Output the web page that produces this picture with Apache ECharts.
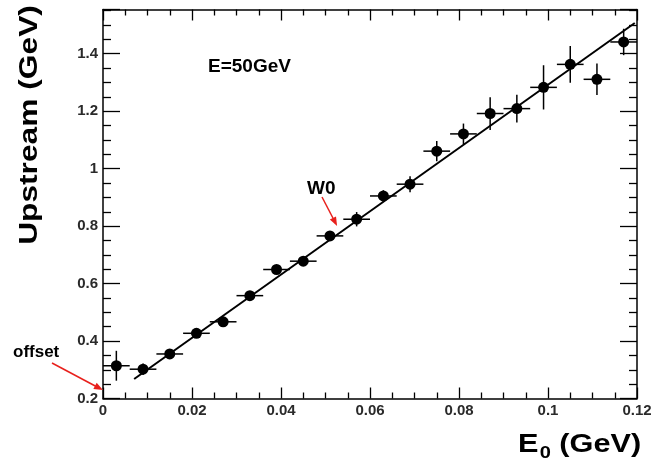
<!DOCTYPE html>
<html><head><meta charset="utf-8">
<script src="https://cdn.jsdelivr.net/npm/echarts@6/dist/echarts.min.js"></script>
<style>html,body{margin:0;padding:0;background:#fff}#c{width:658px;height:466px}</style>
</head><body><div id="c"></div>
<script>
// ---- data ----
const binCenters = [0.003,0.009,0.015,0.021,0.027,0.033,0.039,0.045,0.051,0.057,
                    0.063,0.069,0.075,0.081,0.087,0.093,0.099,0.105,0.111,0.117];
const upstream = [0.314,0.302,0.355,0.427,0.467,0.558,0.649,0.678,0.766,0.824,
                  0.905,0.946,1.061,1.121,1.192,1.209,1.283,1.363,1.311,1.441];
const upstreamErr = [0.052,0.020,0.010,0.010,0.010,0.010,0.012,0.010,0.012,0.025,
                     0.020,0.028,0.035,0.036,0.057,0.048,0.077,0.064,0.055,0.046];
const binHalfWidth = [0.003,0.003,0.003,0.003,0.003,0.003,0.003,0.003,0.003,0.003,
                      0.003,0.003,0.003,0.003,0.003,0.003,0.003,0.003,0.003,0.003];
const fitX = [0.007, 0.1195];
const fitY = [0.268, 1.507];
const xRange = [0, 0.12];
const yRange = [0.2, 1.554];

const points = binCenters.map((x, i) => [x, upstream[i]]);
const errData = binCenters.map((x, i) => [x, upstream[i], binHalfWidth[i], upstreamErr[i]]);
const fitData = fitX.map((x, i) => [x, fitY[i]]);

const FONT = 'Arial, "Liberation Sans", sans-serif';
const labelStyle = {color:'#2a2a2a', fontWeight:'bold', fontSize:15, fontFamily:FONT};
const blk = {color:'#000', width:1.3};

function xAxisDef(pos, show) {
  return {
    type:'value', min:xRange[0], max:xRange[1], interval:0.02, position:pos,
    axisLine:{show:true, onZero:false, lineStyle:{color:'#000', width:1.5}},
    axisTick:{show:true, inside:true, length:11, lineStyle:blk},
    minorTick:{show:true, splitNumber:4, length:6, lineStyle:blk},
    splitLine:{show:false}, minorSplitLine:{show:false},
    axisLabel:Object.assign({show:show, margin:5}, labelStyle)
  };
}
function yAxisDef(pos, show) {
  return {
    type:'value', min:yRange[0], max:yRange[1], interval:0.2, position:pos,
    axisLine:{show:true, onZero:false, lineStyle:{color:'#000', width:1.5}},
    axisTick:{show:true, inside:true, length:17, lineStyle:blk},
    minorTick:{show:true, splitNumber:4, length:8, lineStyle:blk},
    splitLine:{show:false}, minorSplitLine:{show:false},
    axisLabel:Object.assign({show:show, margin:5, showMaxLabel:false}, labelStyle)
  };
}

const chart = echarts.init(document.getElementById('c'), null, {renderer:'canvas'});
chart.setOption({
  animation:false,
  backgroundColor:'#fff',
  grid:{left:103, right:21, top:9.5, bottom:67.5, containLabel:false},
  xAxis:[xAxisDef('bottom', true), xAxisDef('top', false)],
  yAxis:[yAxisDef('left', true), yAxisDef('right', false)],
  series:[
    {
      type:'custom', xAxisIndex:0, yAxisIndex:0, data:errData, z:3,
      renderItem:function(params, api){
        const x = api.value(0), y = api.value(1), dx = api.value(2), dy = api.value(3);
        const l = api.coord([x-dx, y]), r = api.coord([x+dx, y]);
        const t = api.coord([x, y+dy]), b = api.coord([x, y-dy]);
        return {type:'group', children:[
          {type:'line', shape:{x1:l[0], y1:l[1], x2:r[0], y2:r[1]}, style:{stroke:'#000', lineWidth:1.5}},
          {type:'line', shape:{x1:t[0], y1:t[1], x2:b[0], y2:b[1]}, style:{stroke:'#000', lineWidth:1.5}}
        ]};
      }
    },
    {
      type:'line', data:fitData, showSymbol:false, symbol:'none', z:2, clip:false,
      lineStyle:{color:'#000', width:2},
      markLine:{
        silent:true, symbol:['none','triangle'], symbolSize:[7,9],
        lineStyle:{color:'#e8201c', width:1.5, type:'solid'},
        label:{show:false}, emphasis:{disabled:true},
        data:[
          [{x:322, y:197}, {x:335, y:222}],
          [{x:52, y:363}, {x:99, y:388}]
        ]
      }
    },
    {
      type:'scatter', data:points, symbol:'circle', symbolSize:11, z:4,
      itemStyle:{color:'#000', opacity:1}
    }
  ],
  graphic:[
    {type:'text', x:30, y:125, rotation:Math.PI/2, scaleX:1.22, silent:true,
     style:{text:'Upstream (GeV)', font:'bold 26px ' + FONT, fill:'#000', align:'center', verticalAlign:'middle'}},
    {type:'text', x:518, y:445, scaleX:1.18, silent:true,
     style:{text:'{a|E}{b|0}{a| (GeV)}', fill:'#000', align:'left', verticalAlign:'middle',
       rich:{a:{font:'bold 26px ' + FONT, fill:'#000'}, b:{font:'bold 17px ' + FONT, fill:'#000', padding:[16,0,0,1]}}}},
    {type:'text', x:208, y:67, silent:true,
     style:{text:'E=50GeV', font:'bold 19px ' + FONT, fill:'#000', align:'left', verticalAlign:'middle'}},
    {type:'text', x:307, y:189, silent:true,
     style:{text:'W0', font:'bold 19px ' + FONT, fill:'#000', align:'left', verticalAlign:'middle'}},
    {type:'text', x:13, y:352, silent:true,
     style:{text:'offset', font:'bold 17px ' + FONT, fill:'#000', align:'left', verticalAlign:'middle'}}
  ]
});
</script>
</body></html>
